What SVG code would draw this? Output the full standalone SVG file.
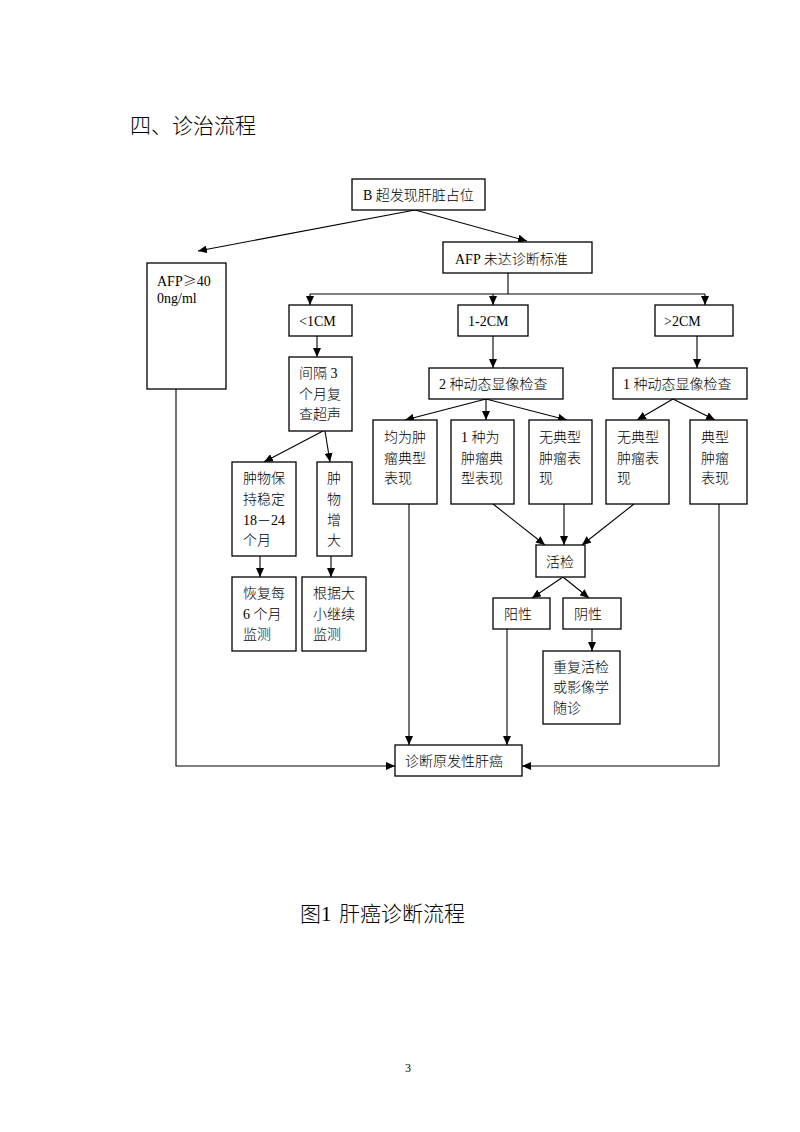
<svg xmlns="http://www.w3.org/2000/svg" width="800" height="1132" viewBox="0 0 800 1132">
<style>
  .box { fill: #fff; stroke: #000; stroke-width: 1.3; }
  .t { font-family: "Liberation Serif", "Noto Sans CJK SC", serif; font-size: 14px; font-weight: 300; fill: #000; }
  .big { font-family: "Liberation Serif", "Noto Sans CJK SC", serif; font-size: 21px; font-weight: 300; fill: #000; }
  .cjk { font-family: "Noto Sans CJK SC", sans-serif; }
  .pg { font-family: "Liberation Serif", serif; font-size: 12px; fill: #000; }
  .c { fill: none; stroke: #000; stroke-width: 1.1; }
  .a { marker-end: url(#arr); }
</style>
<defs>
  <marker id="arr" markerUnits="userSpaceOnUse" markerWidth="10" markerHeight="8" refX="9" refY="4" orient="auto">
    <path d="M0,0 L9,4 L0,8 z" fill="#000"/>
  </marker>
</defs>
<rect width="800" height="1132" fill="#fff"/>
<text class="big" x="130" y="133">四、诊治流程</text>

<g id="connectors">
  <path class="c a" d="M415,210 L198,251"/>
  <path class="c a" d="M415,210 L527,241"/>
  <path class="c" d="M508,273 V294 M310,294 H705"/>
  <path class="c a" d="M310,294 V305"/>
  <path class="c a" d="M493,294 V305"/>
  <path class="c a" d="M705,294 V305"/>
  <path class="c a" d="M317,336 V357"/>
  <path class="c a" d="M323,431 L264,462"/>
  <path class="c a" d="M325,431 L330,462"/>
  <path class="c a" d="M260,556 V577"/>
  <path class="c a" d="M331,556 V577"/>
  <path class="c a" d="M493,336 V368"/>
  <path class="c a" d="M697,336 V368"/>
  <path class="c a" d="M486,399 L405,420"/>
  <path class="c a" d="M486,399 V420"/>
  <path class="c a" d="M486,399 L567,420"/>
  <path class="c a" d="M673,399 L637,420"/>
  <path class="c a" d="M673,399 L715,420"/>
  <path class="c a" d="M493,504 L545,545"/>
  <path class="c a" d="M564,504 V545"/>
  <path class="c a" d="M634,504 L582,545"/>
  <path class="c a" d="M563,577 L532,598"/>
  <path class="c a" d="M563,577 L589,598"/>
  <path class="c a" d="M592,629 V651"/>
  <path class="c a" d="M507,629 V745"/>
  <path class="c a" d="M409,504 V745"/>
  <path class="c a" d="M176,389 V766 H395"/>
  <path class="c a" d="M719,504 V766 H522"/>
</g>

<g id="n_b">
  <rect class="box" x="352" y="179" width="133" height="31"/>
  <text class="t" x="363" y="200">B 超发现肝脏占位</text>
</g>
<g id="n_afp_not">
  <rect class="box" x="443" y="242" width="149" height="31"/>
  <text class="t" x="455" y="264">AFP 未达诊断标准</text>
</g>
<g id="n_afp400">
  <rect class="box" x="147" y="263" width="79" height="126"/>
  <text class="t" x="157" y="286">AFP<tspan class="cjk">≥</tspan>40</text>
  <text class="t" x="157" y="303">0ng/ml</text>
</g>
<g id="n_lt1">
  <rect class="box" x="289" y="305" width="63" height="31"/>
  <text class="t" x="299" y="326">&lt;1CM</text>
</g>
<g id="n_12">
  <rect class="box" x="458" y="305" width="70" height="31"/>
  <text class="t" x="468" y="326">1-2CM</text>
</g>
<g id="n_gt2">
  <rect class="box" x="655" y="305" width="78" height="31"/>
  <text class="t" x="664" y="326">&gt;2CM</text>
</g>
<g id="n_interval">
  <rect class="box" x="289" y="357" width="63" height="74"/>
  <text class="t" x="299" y="378">间隔 3</text>
  <text class="t" x="299" y="399">个月复</text>
  <text class="t" x="299" y="419">查超声</text>
</g>
<g id="n_2dyn">
  <rect class="box" x="429" y="368" width="134" height="31"/>
  <text class="t" x="439" y="389">2 种动态显像检查</text>
</g>
<g id="n_1dyn">
  <rect class="box" x="613" y="368" width="134" height="31"/>
  <text class="t" x="623" y="389">1 种动态显像检查</text>
</g>
<g id="n_both">
  <rect class="box" x="373" y="420" width="64" height="84"/>
  <text class="t" x="384" y="442">均为肿</text>
  <text class="t" x="384" y="463">瘤典型</text>
  <text class="t" x="384" y="483">表现</text>
</g>
<g id="n_one">
  <rect class="box" x="451" y="420" width="63" height="84"/>
  <text class="t" x="461" y="442">1 种为</text>
  <text class="t" x="461" y="463">肿瘤典</text>
  <text class="t" x="461" y="483">型表现</text>
</g>
<g id="n_none1">
  <rect class="box" x="529" y="420" width="63" height="84"/>
  <text class="t" x="539" y="442">无典型</text>
  <text class="t" x="539" y="463">肿瘤表</text>
  <text class="t" x="539" y="483">现</text>
</g>
<g id="n_none2">
  <rect class="box" x="606" y="420" width="63" height="84"/>
  <text class="t" x="617" y="442">无典型</text>
  <text class="t" x="617" y="463">肿瘤表</text>
  <text class="t" x="617" y="483">现</text>
</g>
<g id="n_typ">
  <rect class="box" x="690" y="420" width="57" height="84"/>
  <text class="t" x="701" y="442">典型</text>
  <text class="t" x="701" y="463">肿瘤</text>
  <text class="t" x="701" y="483">表现</text>
</g>
<g id="n_stable">
  <rect class="box" x="232" y="462" width="64" height="94"/>
  <text class="t" x="243" y="483">肿物保</text>
  <text class="t" x="243" y="504">持稳定</text>
  <text class="t" x="243" y="525">18－24</text>
  <text class="t" x="243" y="545">个月</text>
</g>
<g id="n_grow">
  <rect class="box" x="317" y="462" width="35" height="94"/>
  <text class="t" x="334" y="483" text-anchor="middle">肿</text>
  <text class="t" x="334" y="504" text-anchor="middle">物</text>
  <text class="t" x="334" y="525" text-anchor="middle">增</text>
  <text class="t" x="334" y="545" text-anchor="middle">大</text>
</g>
<g id="n_resume">
  <rect class="box" x="232" y="577" width="64" height="74"/>
  <text class="t" x="243" y="598">恢复每</text>
  <text class="t" x="243" y="619">6 个月</text>
  <text class="t" x="243" y="639">监测</text>
</g>
<g id="n_size">
  <rect class="box" x="302" y="577" width="64" height="74"/>
  <text class="t" x="313" y="598">根据大</text>
  <text class="t" x="313" y="619">小继续</text>
  <text class="t" x="313" y="639">监测</text>
</g>
<g id="n_biopsy">
  <rect class="box" x="536" y="545" width="49" height="32"/>
  <text class="t" x="546" y="567">活检</text>
</g>
<g id="n_pos">
  <rect class="box" x="493" y="598" width="57" height="31"/>
  <text class="t" x="504" y="619">阳性</text>
</g>
<g id="n_neg">
  <rect class="box" x="563" y="598" width="58" height="31"/>
  <text class="t" x="574" y="619">阴性</text>
</g>
<g id="n_repeat">
  <rect class="box" x="543" y="651" width="77" height="73"/>
  <text class="t" x="553" y="672">重复活检</text>
  <text class="t" x="553" y="692">或影像学</text>
  <text class="t" x="553" y="713">随诊</text>
</g>
<g id="n_diag">
  <rect class="box" x="395" y="745" width="127" height="31"/>
  <text class="t" x="405" y="766">诊断原发性肝癌</text>
</g>

<text class="big" x="300" y="921">图1 <tspan x="339">肝癌诊断流程</tspan></text>
<text class="pg" x="405" y="1072">3</text>
</svg>
